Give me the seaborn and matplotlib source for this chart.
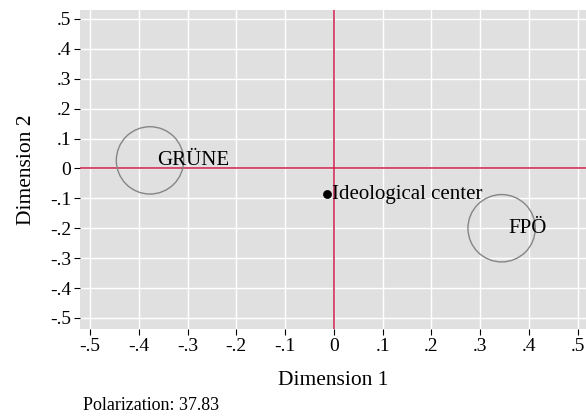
import numpy as np
import pandas as pd
import matplotlib
matplotlib.use("Agg")
import matplotlib.pyplot as plt
import seaborn as sns

# party positions
parties = ["GRÜNE", "FPÖ"]
dim1 = [-0.377, 0.344]
dim2 = [0.027, -0.200]

# ideological center
center_x = [-0.015]
center_y = [-0.086]
center_label = ["Ideological center"]

ticks = [-0.5, -0.4, -0.3, -0.2, -0.1, 0.0, 0.1, 0.2, 0.3, 0.4, 0.5]
tick_labels = ["-.5", "-.4", "-.3", "-.2", "-.1", "0", ".1", ".2", ".3", ".4", ".5"]
polarization = 37.83

sns.set_style("darkgrid", {"axes.facecolor": "#e0e0e0", "grid.color": "white",
                           "text.color": "black", "axes.labelcolor": "black",
                           "xtick.color": "black", "ytick.color": "black"})
plt.rcParams["font.family"] = ["Liberation Serif", "DejaVu Serif"]

df = pd.DataFrame({"Dimension 1": dim1, "Dimension 2": dim2, "party": parties})
dc = pd.DataFrame({"x": center_x, "y": center_y, "label": center_label})

fig = plt.figure(figsize=(5.86, 4.18), dpi=100)
ax = fig.add_axes([80 / 586, 89 / 418, 506 / 586, 319 / 418])

red = "#cc1f4a"
ax.axhline(0, color=red, lw=1.1, zorder=2)
ax.axvline(0, color=red, lw=1.1, zorder=2)

sns.scatterplot(data=df, x="Dimension 1", y="Dimension 2", s=2350, marker="o",
                facecolors="none", edgecolor="#858585", linewidth=1.0, ax=ax, zorder=3)
sns.scatterplot(data=dc, x="x", y="y", s=34, color="black", edgecolor="black", ax=ax, zorder=4)

for i, row in df.iterrows():
    ax.annotate(row["party"], (row["Dimension 1"], row["Dimension 2"]), xytext=(5, 0),
                textcoords="offset points", va="center", ha="left", fontsize=15, zorder=5)
for i, row in dc.iterrows():
    ax.annotate(row["label"], (row["x"], row["y"]), xytext=(4, 0),
                textcoords="offset points", va="center", ha="left", fontsize=15, zorder=5)

ax.set_xlim(-0.5205, 0.517)
ax.set_ylim(-0.537, 0.530)
ax.set_xticks(ticks)
ax.set_xticklabels(tick_labels)
ax.set_yticks(ticks)
ax.set_yticklabels(tick_labels)
ax.tick_params(axis="both", which="major", length=4.3, width=0.8, color="black",
               labelcolor="black", labelsize=14, pad=2, bottom=True, left=True)
ax.grid(True, color="white", lw=1.0)
for s in ax.spines.values():
    s.set_visible(False)

ax.set_xlabel("Dimension 1", fontsize=15.5, labelpad=12)
ax.set_ylabel("Dimension 2", fontsize=15.5, labelpad=10)

fig.text(83 / 586, 1 - 406 / 418, "Polarization: {:.2f}".format(polarization),
         fontsize=13, va="center", ha="left")

fig.savefig("out.png", dpi=100, facecolor="white")
